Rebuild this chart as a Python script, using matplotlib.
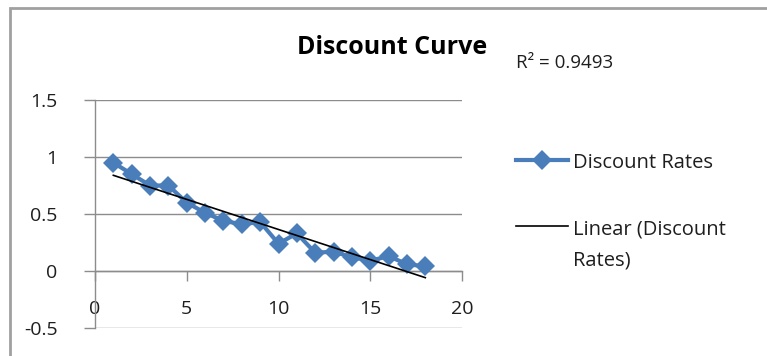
import numpy as np
import matplotlib.pyplot as plt
from matplotlib.lines import Line2D
from matplotlib.patches import Rectangle

plt.rcParams['font.family'] = ['Open Sans', 'DejaVu Sans']

# discount rate observed for each period
periods = np.arange(1, 19)
discount_rates = [0.95, 0.85, 0.75, 0.75, 0.60, 0.51, 0.44, 0.41, 0.43,
                  0.24, 0.33, 0.16, 0.17, 0.12, 0.09, 0.13, 0.06, 0.04]
r_squared_text = 'R² = 0.9493'
x_ticks = [0, 5, 10, 15, 20]
y_ticks = [-0.5, 0, 0.5, 1, 1.5]

blue = '#4a7ebb'
grid_gray = '#8c8c8c'
text_color = '#1e1e1e'

fig = plt.figure(figsize=(7.67, 3.56), dpi=100)
ax = fig.add_axes([95 / 767, 1 - 328 / 356, 367 / 767, 228 / 356])

# horizontal gridlines
for y in y_ticks:
    ax.axhline(y, color=grid_gray, lw=1.0, zorder=0)

ax.plot(periods, discount_rates, color=blue, lw=3.0, marker='D',
        markersize=10.5, markeredgewidth=0, zorder=3)

# least squares trendline over the data range
slope, intercept = np.polyfit(periods, discount_rates, 1)
trend_x = np.array([periods[0], periods[-1]])
ax.plot(trend_x, slope * trend_x + intercept, color='black', lw=1.2, zorder=4)

ax.set_xlim(0, 20)
ax.set_ylim(-0.5, 1.5)
ax.set_xticks(x_ticks)
ax.set_yticks(y_ticks)
ax.set_yticklabels(['-0.5', '0', '0.5', '1', '1.5'])

for side in ['top', 'right']:
    ax.spines[side].set_visible(False)
ax.spines['left'].set_color(grid_gray)
ax.spines['left'].set_linewidth(1.0)
ax.spines['bottom'].set_position(('data', 0))
ax.spines['bottom'].set_color(grid_gray)
ax.spines['bottom'].set_linewidth(1.0)

ax.tick_params(axis='y', direction='out', length=8, width=1.0,
               color=grid_gray, pad=19, labelsize=14, labelcolor=text_color)
ax.tick_params(axis='x', direction='out', length=7, width=1.0,
               color=grid_gray, pad=14, labelsize=14, labelcolor=text_color)

fig.text(392 / 767, 1 - 48 / 356, 'Discount Curve', ha='center', va='center',
         fontsize=18, fontweight='bold', color='black')
fig.text(516 / 767, 1 - 63 / 356, r_squared_text, ha='left', va='center',
         fontsize=13.5, color=text_color)

legend_handles = [
    Line2D([], [], color=blue, lw=3.0, marker='D', markersize=10.5, markeredgewidth=0),
    Line2D([], [], color='black', lw=1.2),
]
leg = fig.legend(legend_handles, ['Discount Rates', 'Linear (Discount\nRates)'],
                 loc='upper left', bbox_to_anchor=(498 / 767, 1 - 135 / 356),
                 frameon=False, fontsize=14.5, handlelength=2.6,
                 handletextpad=0.2, labelspacing=2.3, labelcolor=text_color)
for t in leg.get_texts():
    t.set_linespacing(1.75)
# keep each legend key level with the first line of its label
for column in leg._legend_handle_box.get_children():
    for item in column.get_children():
        item.align = 'top'

# chart area border
fig.patches.append(Rectangle((10 / 767, -0.1), 1.0, 1 - 8 / 356 + 0.1,
                             transform=fig.transFigure, fill=False,
                             edgecolor='#a0a0a0', lw=2.0))

fig.savefig('out.png', dpi=100)
